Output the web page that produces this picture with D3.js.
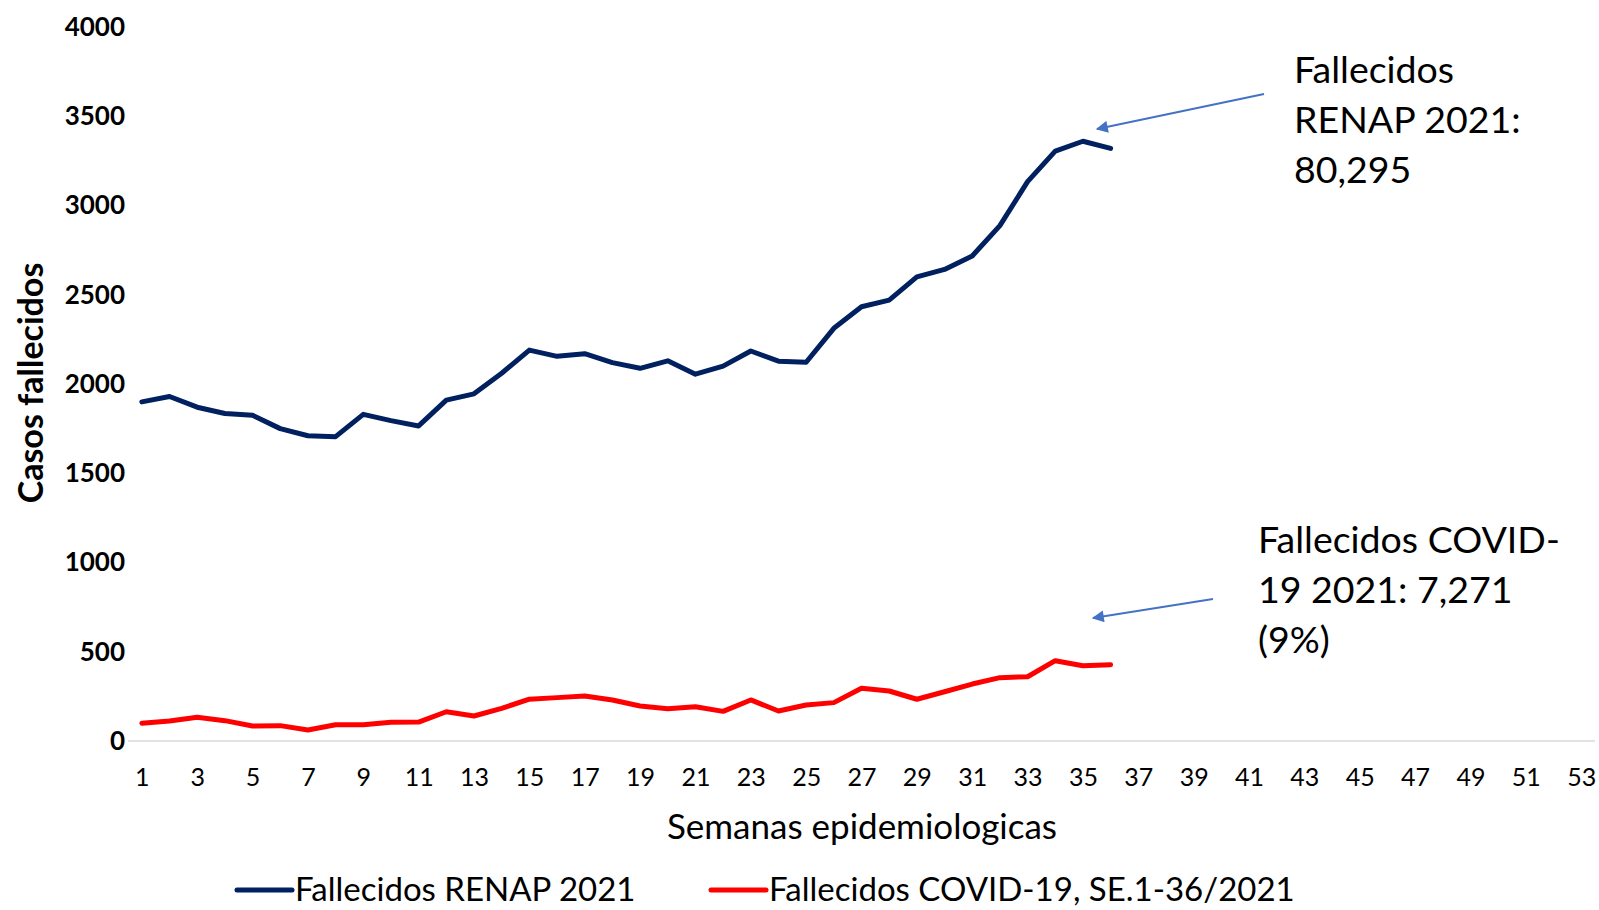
<!DOCTYPE html>
<html>
<head>
<meta charset="utf-8">
<script src="https://cdn.jsdelivr.net/npm/d3@7"></script>
<style>
  body { margin: 0; background: #fff; }
  svg { display: block; font-family: Lato, "Open Sans", sans-serif; }
</style>
</head>
<body>
<div id="chart"></div>
<script>
// weekly deaths, SE 1-36 of 2021
const weeks = d3.range(1, 37);
const renap = [1900, 1930, 1870, 1835, 1825, 1750, 1710, 1705, 1830, 1795,
               1765, 1910, 1945, 2060, 2190, 2155, 2170, 2120, 2088, 2130,
               2055, 2100, 2185, 2128, 2122, 2312, 2433, 2470, 2600, 2642,
               2717, 2887, 3134, 3305, 3360, 3320];
const covid = [100, 112, 133, 114, 84, 86, 62, 91, 91, 105,
               106, 164, 140, 183, 234, 243, 252, 230, 196, 181,
               192, 166, 230, 168, 202, 215, 295, 280, 234, 276,
               319, 355, 360, 450, 422, 427];
const yTicks = [0, 500, 1000, 1500, 2000, 2500, 3000, 3500, 4000];
const xTicks = d3.range(1, 54, 2);
const seriesNames = ["Fallecidos RENAP 2021", "Fallecidos COVID-19, SE.1-36/2021"];
const seriesColors = ["#002060", "#ff0000"];
const notes = [
  ["Fallecidos", "RENAP 2021:", "80,295"],
  ["Fallecidos COVID-", "19 2021: 7,271", "(9%)"]
];

const width = 1599, height = 910;

const svg = d3.select("#chart").append("svg")
  .attr("width", width)
  .attr("height", height);

const x = d3.scaleLinear().domain([0.5, 53.5]).range([128, 1595]);
const y = d3.scaleLinear().domain([0, 4000]).range([741, 27]);

// x axis (gray baseline at zero)
svg.append("line")
  .attr("x1", x.range()[0]).attr("x2", x.range()[1])
  .attr("y1", y(0)).attr("y2", y(0))
  .attr("stroke", "#d9d9d9").attr("stroke-width", 1.5);

const xAxis = svg.append("g")
  .attr("transform", "translate(0," + 762 + ")")
  .call(d3.axisBottom(x).tickValues(xTicks).tickSize(0).tickPadding(0));
xAxis.select(".domain").remove();
xAxis.selectAll("text")
  .attr("font-family", "Lato, sans-serif")
  .attr("font-size", 25)
  .attr("fill", "#000")
  .attr("dy", "0.95em");

const yAxis = svg.append("g")
  .attr("transform", "translate(125,0)")
  .call(d3.axisLeft(y).tickValues(yTicks).tickFormat(d3.format("d")).tickSize(0).tickPadding(0));
yAxis.select(".domain").remove();
yAxis.selectAll("text")
  .attr("font-family", "Lato, sans-serif")
  .attr("font-size", 26)
  .attr("font-weight", "bold")
  .attr("fill", "#000");

// axis titles
svg.append("text")
  .attr("transform", "translate(43,383) rotate(-90)")
  .attr("text-anchor", "middle")
  .attr("font-size", 34)
  .attr("font-weight", "bold")
  .text("Casos fallecidos");

svg.append("text")
  .attr("x", 862).attr("y", 839)
  .attr("text-anchor", "middle")
  .attr("font-size", 35)
  .text("Semanas epidemiologicas");

// lines
const line = d3.line()
  .x((d, i) => x(weeks[i]))
  .y(d => y(d));

[renap, covid].forEach((s, k) => {
  svg.append("path")
    .datum(s)
    .attr("fill", "none")
    .attr("stroke", seriesColors[k])
    .attr("stroke-width", 5)
    .attr("stroke-linejoin", "round")
    .attr("stroke-linecap", "round")
    .attr("d", line);
});

// annotation arrows
svg.append("defs").append("marker")
  .attr("id", "arrow")
  .attr("viewBox", "0 0 10 10")
  .attr("refX", 9).attr("refY", 5)
  .attr("markerWidth", 7).attr("markerHeight", 6)
  .attr("markerUnits", "strokeWidth")
  .attr("orient", "auto")
  .append("path")
  .attr("d", "M0,0 L10,5 L0,10 Z")
  .attr("fill", "#4472c4");

const arrows = [
  [[1264, 94], [1097, 129]],
  [[1213, 599], [1093, 618]]
];
arrows.forEach(a => {
  svg.append("line")
    .attr("x1", a[0][0]).attr("y1", a[0][1])
    .attr("x2", a[1][0]).attr("y2", a[1][1])
    .attr("stroke", "#4472c4")
    .attr("stroke-width", 2)
    .attr("marker-end", "url(#arrow)");
});

const notePos = [[1294, 83], [1258, 553]];
notes.forEach((lines, k) => {
  const t = svg.append("text")
    .attr("x", notePos[k][0]).attr("y", notePos[k][1])
    .attr("font-size", 37.5)
    .attr("fill", "#000");
  lines.forEach((s, i) => {
    t.append("tspan")
      .attr("x", notePos[k][0])
      .attr("dy", i === 0 ? 0 : 50)
      .text(s);
  });
});

// legend
const legendX = [237, 711];
seriesNames.forEach((n, k) => {
  const g = svg.append("g").attr("transform", "translate(" + legendX[k] + ",890)");
  g.append("line")
    .attr("x1", 0).attr("x2", 55)
    .attr("stroke", seriesColors[k])
    .attr("stroke-width", 5)
    .attr("stroke-linecap", "round");
  g.append("text")
    .attr("x", 58).attr("y", 11)
    .attr("font-size", 33)
    .text(n);
});
</script>
</body>
</html>
